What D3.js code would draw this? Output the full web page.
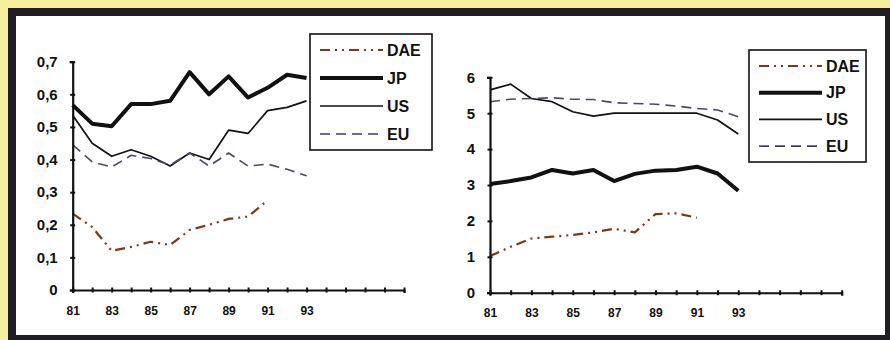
<!DOCTYPE html>
<html>
<head>
<meta charset="utf-8">
<script src="https://cdn.jsdelivr.net/npm/d3@7"></script>
<style>
  body { margin: 0; background: #f7ee9e; }
  svg { display: block; }
  text { font-family: "Liberation Sans", Arial, sans-serif; font-weight: bold; fill: #111; }
</style>
</head>
<body>
<svg width="890" height="340"></svg>
<script>
/* years and tick labels */
var years = [81, 82, 83, 84, 85, 86, 87, 88, 89, 90, 91, 92, 93];
var yearLabels = ["81", "83", "85", "87", "89", "91", "93"];
var seriesNames = ["DAE", "JP", "US", "EU"];

/* left panel values */
var leftDAE = [0.234, 0.193, 0.12, 0.132, 0.148, 0.138, 0.184, 0.2, 0.218, 0.225, 0.275];
var leftJP  = [0.567, 0.51, 0.502, 0.57, 0.57, 0.58, 0.668, 0.6, 0.655, 0.59, 0.62, 0.66, 0.65];
var leftUS  = [0.536, 0.45, 0.41, 0.43, 0.41, 0.38, 0.42, 0.40, 0.49, 0.48, 0.55, 0.56, 0.58];
var leftEU  = [0.445, 0.393, 0.377, 0.413, 0.403, 0.383, 0.42, 0.38, 0.42, 0.38, 0.386, 0.37, 0.35];
var leftTicks = [0, 0.1, 0.2, 0.3, 0.4, 0.5, 0.6, 0.7];

/* right panel values */
var rightDAE = [1.02, 1.28, 1.51, 1.56, 1.61, 1.68, 1.78, 1.68, 2.19, 2.21, 2.09];
var rightJP  = [3.03, 3.11, 3.21, 3.42, 3.32, 3.42, 3.11, 3.31, 3.40, 3.42, 3.51, 3.32, 2.84];
var rightUS  = [5.65, 5.81, 5.41, 5.32, 5.04, 4.92, 5.0, 5.0, 5.0, 5.0, 5.0, 4.81, 4.42];
var rightEU  = [5.32, 5.39, 5.41, 5.43, 5.39, 5.38, 5.29, 5.27, 5.25, 5.2, 5.13, 5.09, 4.9];
var rightTicks = [0, 1, 2, 3, 4, 5, 6];

var styles = {
  DAE: {stroke: "#7a3a18", width: 2.2, dash: "10,5,2,5,2,5"},
  JP:  {stroke: "#111", width: 4, dash: null},
  US:  {stroke: "#111", width: 1.7, dash: null},
  EU:  {stroke: "#4a4a66", width: 1.6, dash: "10,6"}
};

var svg = d3.select("svg");

/* frame */
svg.append("rect").attr("x", 8).attr("y", 8).attr("width", 882).attr("height", 332).attr("fill", "#1e1e24");
svg.append("rect").attr("x", 16).attr("y", 16).attr("width", 869).attr("height", 319).attr("fill", "#fff");

function panel(opt) {
  var x = d3.scaleLinear().domain([81, 98]).range(opt.xr);
  var y = d3.scaleLinear().domain([0, opt.ymax]).range(opt.yr);
  var g = svg.append("g");

  /* lines */
  var line = d3.line()
      .x(function(d, i) { return x(years[i]); })
      .y(function(d) { return y(d); });

  seriesNames.forEach(function(name) {
    var s = styles[name];
    g.append("path")
        .datum(opt.data[name])
        .attr("fill", "none")
        .attr("stroke", s.stroke)
        .attr("stroke-width", s.width)
        .attr("stroke-dasharray", s.dash)
        .attr("stroke-linejoin", "round")
        .attr("d", line);
  });

  /* y axis */
  var ya = g.append("g")
      .attr("transform", "translate(" + opt.xr[0] + ",0)")
      .call(d3.axisLeft(y).tickValues(opt.ticks).tickSize(3).tickPadding(12)
        .tickFormat(opt.fmt));
  ya.select(".domain").attr("stroke", "#111").attr("stroke-width", 2.2);
  ya.selectAll(".tick line").attr("x1", -2.5).attr("x2", 2.5).attr("stroke", "#111").attr("stroke-width", 2);
  ya.selectAll(".tick text").attr("font-size", 15).style("font-family", "Liberation Sans, Arial, sans-serif").style("font-weight", "bold").attr("fill", "#111");

  /* x axis */
  var xa = g.append("g")
      .attr("transform", "translate(0," + opt.yr[0] + ")")
      .call(d3.axisBottom(x).tickValues(d3.range(81, 99)).tickSize(3).tickPadding(13)
        .tickFormat(function(d) { return yearLabels.indexOf(String(d)) >= 0 ? String(d) : ""; }));
  xa.select(".domain").attr("stroke", "#111").attr("stroke-width", 2);
  xa.selectAll(".tick line").attr("y1", -2.5).attr("y2", 2.5).attr("stroke", "#111").attr("stroke-width", 2);
  xa.selectAll(".tick text").attr("font-size", 12).style("font-family", "Liberation Sans, Arial, sans-serif").style("font-weight", "bold").attr("fill", "#111");

  /* legend */
  var L = opt.legend;
  g.append("rect").attr("x", L.x).attr("y", L.y).attr("width", L.w).attr("height", L.h)
      .attr("fill", "#fff").attr("stroke", "#111").attr("stroke-width", 1.6);
  seriesNames.forEach(function(name, i) {
    var s = styles[name];
    var ly = L.y + L.first + i * L.step;
    g.append("line")
        .attr("x1", L.x + 10).attr("x2", L.x + 73).attr("y1", ly).attr("y2", ly)
        .attr("stroke", name === "EU" ? "#3a3a80" : s.stroke)
        .attr("stroke-width", s.width)
        .attr("stroke-dasharray", s.dash);
    g.append("text").attr("x", L.x + 77).attr("y", ly).attr("dy", "0.36em")
        .attr("font-size", 16).text(name);
  });
}

panel({
  xr: [72.7, 404], yr: [290, 61.7], ymax: 0.7, ticks: leftTicks,
  fmt: function(d) { return d === 0 ? "0" : d3.format(".1f")(d).replace(".", ","); },
  data: {DAE: leftDAE, JP: leftJP, US: leftUS, EU: leftEU},
  legend: {x: 310, y: 34, w: 122, h: 116, first: 16, step: 28}
});

panel({
  xr: [490, 841.7], yr: [292.7, 77.3], ymax: 6, ticks: rightTicks,
  fmt: function(d) { return String(d); },
  data: {DAE: rightDAE, JP: rightJP, US: rightUS, EU: rightEU},
  legend: {x: 749, y: 50, w: 117, h: 112, first: 16, step: 26.7}
});
</script>
</body>
</html>
